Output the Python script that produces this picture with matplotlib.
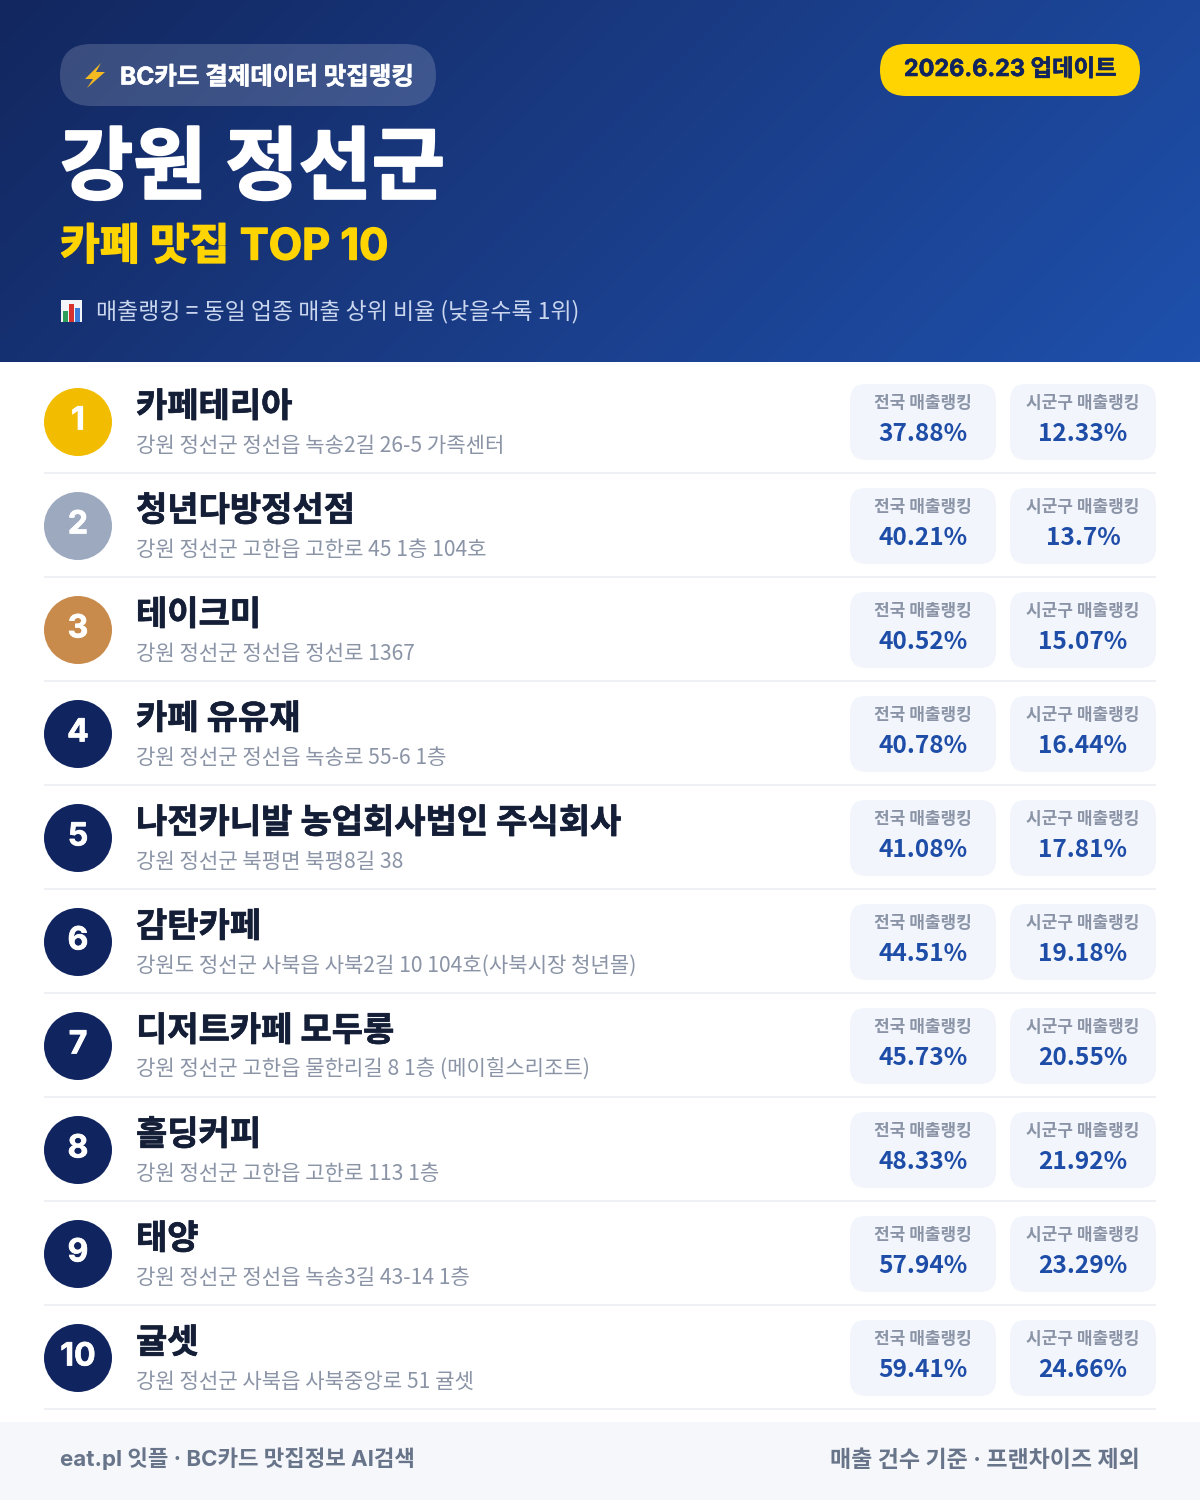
import numpy as np
import matplotlib
matplotlib.use('Agg')
import matplotlib.pyplot as plt
import matplotlib.patheffects as pe
from matplotlib.patches import FancyBboxPatch, Circle, Rectangle, Polygon
from matplotlib.colors import LinearSegmentedColormap

LATIN_FIRST = ['Inter', 'Noto Sans CJK KR', 'DejaVu Sans']
CJK_FIRST = ['Noto Sans CJK KR', 'DejaVu Sans']
plt.rcParams['font.family'] = LATIN_FIRST

names = ['카페테리아', '청년다방정선점', '테이크미', '카페 유유재', '나전카니발 농업회사법인 주식회사',
         '감탄카페', '디저트카페 모두롱', '홀딩커피', '태양', '귤셋']
addresses = ['강원 정선군 정선읍 녹송2길 26-5 가족센터', '강원 정선군 고한읍 고한로 45 1층 104호',
             '강원 정선군 정선읍 정선로 1367', '강원 정선군 정선읍 녹송로 55-6 1층',
             '강원 정선군 북평면 북평8길 38', '강원도 정선군 사북읍 사북2길 10 104호(사북시장 청년몰)',
             '강원 정선군 고한읍 물한리길 8 1층 (메이힐스리조트)', '강원 정선군 고한읍 고한로 113 1층',
             '강원 정선군 정선읍 녹송3길 43-14 1층', '강원 정선군 사북읍 사북중앙로 51 귤셋']
national = ['37.88%', '40.21%', '40.52%', '40.78%', '41.08%', '44.51%', '45.73%', '48.33%', '57.94%', '59.41%']
local = ['12.33%', '13.7%', '15.07%', '16.44%', '17.81%', '19.18%', '20.55%', '21.92%', '23.29%', '24.66%']
badge_colors = ['#F2BC00', '#9CA9BF', '#C98B4B'] + ['#10245F'] * 7

W, H = 1200, 1500
fig = plt.figure(figsize=(12, 15), dpi=100, facecolor='white')
ax = fig.add_axes([0, 0, 1, 1])
ax.set_xlim(0, W); ax.set_ylim(H, 0); ax.axis('off')

def px(s):
    return s * 72 / 100

def T(x, y, s, size, color, weight='normal', ha='left', stroke=0, **kw):
    t = ax.text(x, y, s, fontsize=px(size), color=color, fontweight=weight, ha=ha, va='center', **kw)
    if stroke:
        t.set_path_effects([pe.withStroke(linewidth=stroke, foreground=color)])
    return t

def RR(x, y, w, h, r, fc, alpha=1, z=2):
    ax.add_patch(FancyBboxPatch((x, y), w, h, boxstyle=f'round,pad=0,rounding_size={r}',
                                fc=fc, ec='none', alpha=alpha, zorder=z))

# header gradient
gy, gx = np.mgrid[0:1:100j, 0:1:200j]
g = (gx * 1200 + gy * 362) / 1562
cmap = LinearSegmentedColormap.from_list('h', ['#12275F', '#1A3C86', '#1E50AC'])
ax.imshow(g, extent=[0, W, 362, 0], cmap=cmap, aspect='auto', zorder=0, interpolation='bilinear')
ax.set_xlim(0, W); ax.set_ylim(H, 0)

RR(60, 44, 376, 62, 31, '#FFFFFF', alpha=0.17)
ax.add_patch(Polygon([(101, 63), (85, 79), (93, 79), (87, 88), (105, 72), (96, 72)], fc='#F5B921', ec='none', zorder=3))
T(120, 78, 'BC카드 결제데이터 맛집랭킹', 24.5, 'white', 'bold', stroke=0.4)
RR(880, 44, 260, 52, 26, '#FFD400')
T(1010, 70, '2026.6.23 업데이트', 23.4, '#10245F', 'bold', ha='center', stroke=0.4)
T(60, 172, '강원 정선군', 79.6, 'white', 'bold', stroke=1.5)
T(60, 248, '카페 맛집 TOP 10', 43.3, '#FFD400', 'bold', stroke=1)
# chart icon
ax.add_patch(Rectangle((61, 300), 21, 22, fc='#F2F4F7', ec='none', zorder=3))
ax.add_patch(Rectangle((63, 311), 5, 11, fc='#2E9E5B', ec='none', zorder=4))
ax.add_patch(Rectangle((69, 304), 5, 18, fc='#D8322F', ec='none', zorder=4))
ax.add_patch(Rectangle((75, 308), 5, 14, fc='#3B7DD8', ec='none', zorder=4))
T(96, 312, '매출랭킹 = 동일 업종 매출 상위 비율 (낮을수록 1위)', 22.9, '#C9D6EE', family=CJK_FIRST)

for i in range(10):
    top = 362 + 104 * i
    ax.add_patch(Circle((78, top + 60), 34, fc=badge_colors[i], ec='none', zorder=2))
    T(78, top + 59, str(i + 1), 32, 'white', 'bold', ha='center', zorder=3, stroke=0.5)
    T(136, top + 46, names[i], 34, '#141E37', 'bold', stroke=0.5)
    T(136, top + 84, addresses[i], 21.1, '#8A94A6', family=CJK_FIRST)
    RR(850, top + 22, 146, 76, 16, '#F2F5FC')
    RR(1010, top + 22, 146, 76, 16, '#F2F5FC')
    T(923, top + 41, '전국 매출랭킹', 17, '#8A94A6', 'bold', ha='center', zorder=3)
    T(1083, top + 41, '시군구 매출랭킹', 17, '#8A94A6', 'bold', ha='center', zorder=3)
    T(923, top + 72, national[i], 24.5, '#1E4DA8', 'bold', ha='center', zorder=3, family=CJK_FIRST)
    T(1083, top + 72, local[i], 24.5, '#1E4DA8', 'bold', ha='center', zorder=3, family=CJK_FIRST)
    ax.add_patch(Rectangle((44, top + 110), 1112, 2, fc='#EEF0F3', ec='none', zorder=1))

ax.add_patch(Rectangle((0, 1422), W, 78, fc='#F5F7FB', ec='none', zorder=1))
T(60, 1459, 'eat.pl 잇플 · BC카드 맛집정보 AI검색', 22.3, '#677489', 'bold', zorder=2)
T(1140, 1461, '매출 건수 기준 · 프랜차이즈 제외', 23, '#677489', 'bold', ha='right', zorder=2)

fig.savefig('out.png', dpi=100)
